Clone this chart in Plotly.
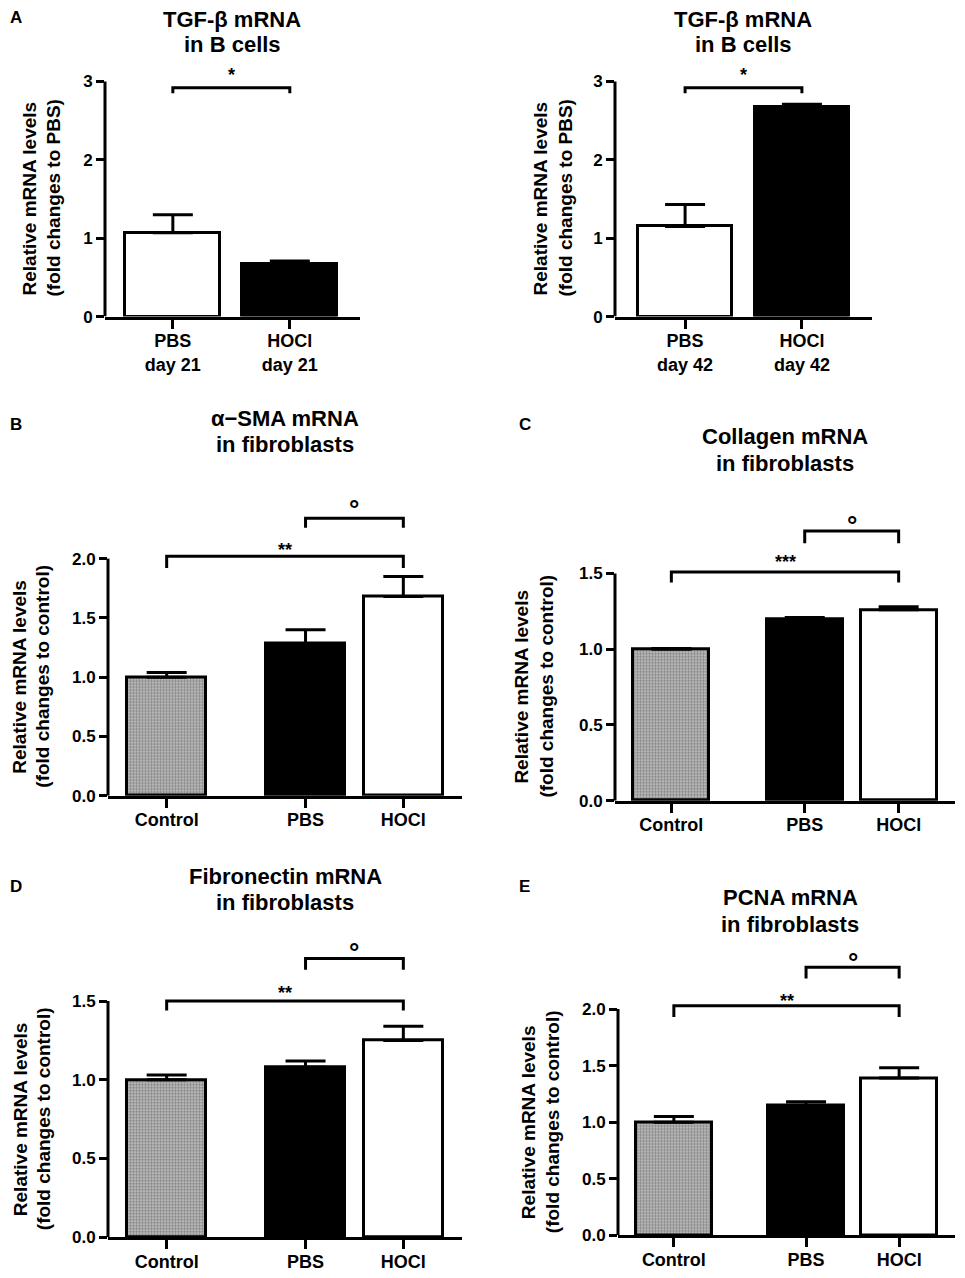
import plotly.graph_objects as go

# ---- data ----
a21_labels = ["PBS<br>day 21", "HOCl<br>day 21"]
a21_values = [1.07, 0.67]
a21_errors = [0.23, 0.04]

a42_labels = ["PBS<br>day 42", "HOCl<br>day 42"]
a42_values = [1.15, 2.68]
a42_errors = [0.28, 0.03]

fib_labels = ["Control", "PBS", "HOCl"]
sma_values = [1.00, 1.28, 1.68]
sma_errors = [0.04, 0.12, 0.17]
col_values = [1.00, 1.20, 1.26]
col_errors = [0.005, 0.01, 0.02]
fn_values = [1.00, 1.08, 1.25]
fn_errors = [0.03, 0.04, 0.09]
pcna_values = [1.00, 1.15, 1.39]
pcna_errors = [0.05, 0.03, 0.09]

# significance brackets: (bar i, bar j, bracket y, leg end y, label, label y)
a21_sig = [(0, 1, 2.92, 2.85, "*", 3.13)]
a42_sig = [(0, 1, 2.92, 2.85, "*", 3.13)]
sma_sig = [(0, 2, 2.02, 1.92, "**", 2.11), (1, 2, 2.34, 2.26, "°", 2.47)]
col_sig = [(0, 2, 1.51, 1.44, "***", 1.60), (1, 2, 1.78, 1.70, "°", 1.86)]
fn_sig = [(0, 2, 1.50, 1.44, "**", 1.58), (1, 2, 1.77, 1.70, "°", 1.85)]
pcna_sig = [(0, 2, 2.03, 1.93, "**", 2.11), (1, 2, 2.37, 2.27, "°", 2.47)]

ytitle_pbs = ["Relative mRNA levels", "(fold changes to PBS)"]
ytitle_ctrl = ["Relative mRNA levels", "(fold changes to control)"]

# the page body has an 8px margin, so the figure is drawn a bit smaller
PAGE_W, PAGE_H, OFF = 965, 1278, 8
W, H = PAGE_W - OFF, PAGE_H - OFF
FONT = "Arial, Liberation Sans, sans-serif"
PATTERN_GREY = "#c8c8c8"


def px(x):
    return (x - OFF) / W


def py(y):
    return 1 - (y - OFF) / H


two_pos = [0, 1]
three_pos = [0, 1.42, 2.42]

# panel geometry in page pixels: axis left/right, y pixel of 0 and of top tick
panels = [
    dict(letter="A", title=["TGF-β mRNA", "in B cells"], ytitle=ytitle_pbs,
         labels=a21_labels, values=a21_values, errors=a21_errors, sig=a21_sig, pos=two_pos,
         fills=["white", "black"], xr=[-0.58, 1.6], left=105, right=360, y0=319, ytop=82,
         topval=3, rtop=3.35, ticks=[0, 1, 2, 3], fmt="d",
         t_x=232, t_y=(20, 45), l_xy=(8, 18), yt_x=(29, 53), yt_y=200),
    dict(letter="", title=["TGF-β mRNA", "in B cells"], ytitle=ytitle_pbs,
         labels=a42_labels, values=a42_values, errors=a42_errors, sig=a42_sig, pos=two_pos,
         fills=["white", "black"], xr=[-0.6, 1.6], left=615, right=872, y0=319, ytop=82,
         topval=3, rtop=3.35, ticks=[0, 1, 2, 3], fmt="d",
         t_x=743, t_y=(20, 45), l_xy=None, yt_x=(540, 565), yt_y=200),
    dict(letter="B", title=["α−SMA mRNA", "in fibroblasts"], ytitle=ytitle_ctrl,
         labels=fib_labels, values=sma_values, errors=sma_errors, sig=sma_sig, pos=three_pos,
         fills=[PATTERN_GREY, "black", "white"], xr=[-0.6, 3.02], left=108, right=462, y0=802, ytop=563,
         topval=2.0, rtop=2.65, ticks=[0, 0.5, 1.0, 1.5, 2.0], fmt=".1f",
         t_x=285, t_y=(422, 448), l_xy=(8, 428), yt_x=(20, 43), yt_y=682),
    dict(letter="C", title=["Collagen mRNA", "in fibroblasts"], ytitle=ytitle_ctrl,
         labels=fib_labels, values=col_values, errors=col_errors, sig=col_sig, pos=three_pos,
         fills=[PATTERN_GREY, "black", "white"], xr=[-0.6, 3.02], left=615, right=955, y0=807, ytop=578,
         topval=1.5, rtop=1.95, ticks=[0, 0.5, 1.0, 1.5], fmt=".1f",
         t_x=785, t_y=(440, 467), l_xy=(517, 428), yt_x=(522, 547), yt_y=692),
    dict(letter="D", title=["Fibronectin mRNA", "in fibroblasts"], ytitle=ytitle_ctrl,
         labels=fib_labels, values=fn_values, errors=fn_errors, sig=fn_sig, pos=three_pos,
         fills=[PATTERN_GREY, "black", "white"], xr=[-0.6, 3.02], left=108, right=462, y0=1247, ytop=1009,
         topval=1.5, rtop=1.95, ticks=[0, 0.5, 1.0, 1.5], fmt=".1f",
         t_x=285, t_y=(883, 910), l_xy=(8, 893), yt_x=(20, 43), yt_y=1128),
    dict(letter="E", title=["PCNA mRNA", "in fibroblasts"], ytitle=ytitle_ctrl,
         labels=fib_labels, values=pcna_values, errors=pcna_errors, sig=pcna_sig, pos=three_pos,
         fills=[PATTERN_GREY, "black", "white"], xr=[-0.6, 3.02], left=618, right=955, y0=1245, ytop=1017,
         topval=2.0, rtop=2.65, ticks=[0, 0.5, 1.0, 1.5, 2.0], fmt=".1f",
         t_x=790, t_y=(905, 932), l_xy=(517, 893), yt_x=(528, 552), yt_y=1131),
]

fig = go.Figure()
annotations = []
shapes = []

for n, p in enumerate(panels, start=1):
    sfx = "" if n == 1 else str(n)
    xa, ya = "x" + sfx, "y" + sfx
    scale = (p["y0"] - p["ytop"]) / p["topval"]
    top_px = p["y0"] - p["rtop"] * scale

    patterns = ["." if c == PATTERN_GREY else "" for c in p["fills"]]
    fig.add_trace(go.Bar(
        x=p["pos"], y=p["values"], width=0.81, xaxis=xa, yaxis=ya,
        marker=dict(color=p["fills"], line=dict(color="black", width=3),
                    pattern=dict(shape=patterns, fgcolor="#505050", size=3, solidity=0.55)),
        error_y=dict(type="data", array=p["errors"], arrayminus=[0] * len(p["errors"]),
                     symmetric=False, thickness=3, width=20, color="black"),
        showlegend=False, hoverinfo="skip",
    ))

    # significance brackets
    for i, j, yb, yl, txt, ytx in p["sig"]:
        xi, xj = p["pos"][i], p["pos"][j]
        fig.add_trace(go.Scatter(
            x=[xi, xi, xj, xj], y=[yl, yb, yb, yl], mode="lines", xaxis=xa, yaxis=ya,
            line=dict(color="black", width=3), showlegend=False, hoverinfo="skip", cliponaxis=False,
        ))
        size, shift = (26, -6) if txt == "°" else (18, -4)
        annotations.append(dict(
            x=(xi + xj) / 2, y=ytx, xref=xa, yref=ya, text=txt, showarrow=False,
            yanchor="middle", yshift=shift, font=dict(family=FONT, size=size, color="black", weight="bold"),
        ))

    fig.layout["xaxis" + sfx] = dict(
        domain=[px(p["left"]), px(p["right"])], anchor=ya, range=p["xr"],
        tickvals=p["pos"], ticktext=p["labels"], ticks="outside", ticklen=9, tickwidth=3,
        tickcolor="black", showline=True, linewidth=3, linecolor="black",
        showgrid=False, zeroline=False, fixedrange=True, ticklabelstandoff=-3,
        tickfont=dict(family=FONT, size=18, color="black", weight="bold"),
    )
    fig.layout["yaxis" + sfx] = dict(
        domain=[py(p["y0"]), py(top_px)], anchor=xa, range=[0, p["rtop"]],
        tickvals=p["ticks"], tickformat=p["fmt"], ticks="outside", ticklen=8, tickwidth=3,
        tickcolor="black", showline=False, showgrid=False, zeroline=False, fixedrange=True,
        tickfont=dict(family=FONT, size=17, color="black", weight="bold"),
    )

    # y axis line only up to the top tick
    shapes.append(dict(type="line", xref=xa + " domain", yref=ya, x0=0, x1=0, y0=0, y1=p["topval"],
                       line=dict(color="black", width=3)))

    for line, ty in zip(p["title"], p["t_y"]):
        annotations.append(dict(
            x=px(p["t_x"]), y=py(ty), xref="paper", yref="paper", text=line,
            showarrow=False, xanchor="center", yanchor="middle",
            font=dict(family=FONT, size=22, color="black", weight="bold"),
        ))
    for line, tx in zip(p["ytitle"], p["yt_x"]):
        annotations.append(dict(
            x=px(tx), y=py(p["yt_y"]), xref="paper", yref="paper", text=line,
            showarrow=False, textangle=-90, xanchor="center", yanchor="middle",
            font=dict(family=FONT, size=19, color="black", weight="bold"),
        ))
    if p["l_xy"]:
        annotations.append(dict(
            x=px(p["l_xy"][0]), y=py(p["l_xy"][1]), xref="paper", yref="paper", text=p["letter"],
            showarrow=False, xanchor="left", yanchor="middle",
            font=dict(family=FONT, size=17, color="black", weight="bold"),
        ))

fig.update_layout(
    width=W, height=H, margin=dict(l=0, r=0, t=0, b=0),
    paper_bgcolor="white", plot_bgcolor="white",
    annotations=annotations, shapes=shapes, bargap=0,
)

fig.write_html("out.html")
